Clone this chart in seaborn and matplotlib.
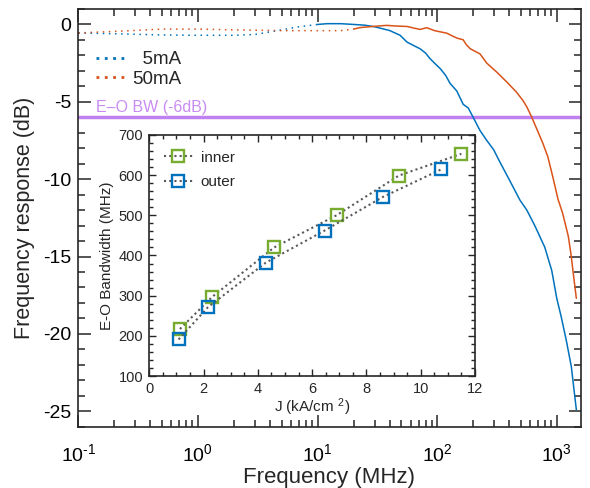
import numpy as np
import pandas as pd
import matplotlib
matplotlib.use('Agg')
import matplotlib.pyplot as plt
from matplotlib.lines import Line2D
from matplotlib.ticker import MultipleLocator, LogLocator, FuncFormatter
import seaborn as sns

# frequency response at 5 mA (MHz, dB)
freq_5ma = [0.1, 0.2, 0.5, 1, 2, 3, 5, 7, 10, 12, 15.6, 20, 25, 30, 40, 49, 56, 65,
            72, 80, 87, 95, 106, 118, 128, 146, 165, 182, 200, 228, 260, 297, 330,
            405, 492, 562, 655, 794, 908, 1000, 1090, 1200, 1323, 1413, 1458]
resp_5ma = [-0.55, -0.6, -0.68, -0.7, -0.7, -0.65, -0.35, -0.15, 0.0, 0.05, 0.05, 0.0,
            -0.05, -0.15, -0.39, -0.7, -1.14, -1.4, -1.57, -1.85, -2.2, -2.5, -2.85,
            -3.3, -3.8, -4.3, -5.16, -5.4, -6.0, -6.85, -7.5, -8.1, -8.8, -10.1, -11.35,
            -12.0, -13.0, -14.4, -15.9, -17.7, -18.9, -20.4, -22.1, -24.0, -24.9]

# frequency response at 50 mA (MHz, dB)
freq_50ma = [0.1, 0.2, 0.5, 1, 2, 5, 10, 15.6, 20, 22.8, 30, 38, 45, 56, 65, 72, 82,
             95, 120, 146, 165, 175, 189, 228, 260, 315, 380, 460, 520, 562, 617, 676,
             767, 843, 930, 1025, 1120, 1250, 1323, 1370, 1458]
resp_50ma = [-0.55, -0.45, -0.3, -0.3, -0.35, -0.4, -0.4, -0.4, -0.3, -0.2, -0.12,
             -0.06, -0.1, -0.13, -0.25, -0.32, -0.21, -0.4, -0.56, -0.88, -0.99, -1.3,
             -1.57, -1.9, -2.5, -3.08, -3.7, -4.37, -4.9, -5.33, -5.98, -6.7, -7.7,
             -8.56, -9.9, -11.3, -12.2, -13.7, -15.0, -16.0, -17.7]

bw_level = -6

# inset: E-O bandwidth vs current density
j_inner = [1.13, 2.32, 4.6, 6.9, 9.2, 11.5]
bw_inner = [217, 297, 420, 500, 599, 653]
j_outer = [1.08, 2.16, 4.29, 6.46, 8.62, 10.75]
bw_outer = [191, 271, 382, 462, 546, 614]

BLUE = '#0072BD'
ORANGE = '#D95319'
GREEN = '#77AC30'
PURPLE = '#C080F0'
INK = '#262626'

sns.set_style('ticks')
plt.rcParams['font.family'] = ['Liberation Sans', 'DejaVu Sans']
plt.rcParams['mathtext.fontset'] = 'custom'
plt.rcParams['mathtext.rm'] = 'Liberation Sans'
plt.rcParams['mathtext.it'] = 'Liberation Sans:italic'
plt.rcParams['axes.unicode_minus'] = False
plt.rcParams['axes.edgecolor'] = INK
plt.rcParams['axes.linewidth'] = 1.2


def decade_label(v, pos):
    # plain hyphen in the exponent, like the original figure
    e = int(round(np.log10(v)))
    return r'$\mathdefault{10^{%s}}$' % str(e).replace('-', r'\text{-}')


fig = plt.figure(figsize=(5.9, 4.88), dpi=100)
ax = fig.add_axes([0.1327, 0.1256, 0.8515, 0.856])

curves = pd.concat([
    pd.DataFrame({'f': freq_5ma, 'dB': resp_5ma, 'curve': '5mA'}),
    pd.DataFrame({'f': freq_50ma, 'dB': resp_50ma, 'curve': '50mA'}),
])

# low-frequency part is sparse (dotted), high-frequency part looks solid
split = {'5mA': 10, '50mA': 20}
colors = {'5mA': BLUE, '50mA': ORANGE}
for name in ['5mA', '50mA']:
    d = curves[curves['curve'] == name]
    lo = d[d['f'] <= split[name]]
    hi = d[d['f'] >= split[name]]
    sns.lineplot(data=lo, x='f', y='dB', ax=ax, color=colors[name], lw=1.1,
                 ls=(0, (1, 3)), estimator=None, sort=False, legend=False)
    sns.lineplot(data=hi, x='f', y='dB', ax=ax, color=colors[name], lw=1.1,
                 estimator=None, sort=False, legend=False)

ax.axhline(bw_level, color=PURPLE, lw=2.5, zorder=1)
ax.text(0.035, bw_level + 0.35, 'E\u2013O BW (-6dB)', color='#C88CF2', fontsize=11.5,
        transform=ax.get_yaxis_transform(), va='baseline', ha='left')

ax.set_xscale('log')
ax.set_xlim(0.1, 1585)
ax.set_ylim(-26, 1)
ax.xaxis.set_major_locator(LogLocator(base=10, numticks=10))
ax.xaxis.set_minor_locator(LogLocator(base=10, subs=np.arange(2, 10), numticks=40))
ax.xaxis.set_major_formatter(FuncFormatter(decade_label))
ax.yaxis.set_major_locator(MultipleLocator(5))
ax.yaxis.set_minor_locator(MultipleLocator(1))
ax.tick_params(which='both', direction='in', top=True, right=True, color=INK, width=1.1)
ax.tick_params(which='major', length=9, labelsize=14, labelcolor='black')
ax.tick_params(which='minor', length=5)
ax.tick_params(axis='x', which='major', pad=12)
ax.tick_params(axis='y', which='major', pad=5)
ax.set_xlabel('Frequency (MHz)', fontsize=16, labelpad=1)
ax.set_ylabel('Frequency response (dB)', fontsize=15.5, labelpad=6)

main_handles = [Line2D([], [], color=BLUE, lw=2, ls=(0, (1, 2))),
                Line2D([], [], color=ORANGE, lw=2, ls=(0, (1, 2)))]
ax.legend(main_handles, ['  5mA', '50mA'], loc='upper left', bbox_to_anchor=(0.035, 0.899),
          frameon=False, fontsize=13.5, handlelength=1.6, handletextpad=0.35,
          labelspacing=0.12, borderpad=0, borderaxespad=0)

# inset
ins = fig.add_axes([0.253, 0.2295, 0.552, 0.494])
ins.set_facecolor('white')
sns.lineplot(x=j_inner, y=bw_inner, ax=ins, color='0.35', lw=1.5, ls=(0, (1, 1.5)),
             marker='s', ms=9, mfc='none', mec=GREEN, mew=1.7, estimator=None,
             sort=False, legend=False)
sns.lineplot(x=j_outer, y=bw_outer, ax=ins, color='0.35', lw=1.5, ls=(0, (1, 1.5)),
             marker='s', ms=9, mfc='none', mec=BLUE, mew=1.7, estimator=None,
             sort=False, legend=False)
ins.set_xlim(0, 12)
ins.set_ylim(100, 700)
ins.xaxis.set_major_locator(MultipleLocator(2))
ins.xaxis.set_minor_locator(MultipleLocator(0.5))
ins.yaxis.set_major_locator(MultipleLocator(100))
ins.yaxis.set_minor_locator(MultipleLocator(20))
ins.tick_params(which='both', direction='in', top=True, right=True, color=INK, width=1.0)
ins.tick_params(which='major', length=5, labelsize=10.5, pad=4.5)
ins.tick_params(which='minor', length=3)
ins.set_xlabel('J (kA/cm $^2$)', fontsize=11, labelpad=0)
ins.set_ylabel('E-O Bandwidth (MHz)', fontsize=11, labelpad=3)

ins_handles = [Line2D([], [], color='0.35', lw=1.5, ls=(0, (1, 1.5)), marker='s', ms=9,
                      mfc='none', mec=c, mew=1.7) for c in (GREEN, BLUE)]
ins.legend(ins_handles, ['inner', 'outer'], loc='upper left', bbox_to_anchor=(0.045, 0.935),
           frameon=False, fontsize=11, handlelength=1.9, handletextpad=0.5,
           labelspacing=0.7, borderpad=0, borderaxespad=0)

fig.savefig('out.png', dpi=100)
